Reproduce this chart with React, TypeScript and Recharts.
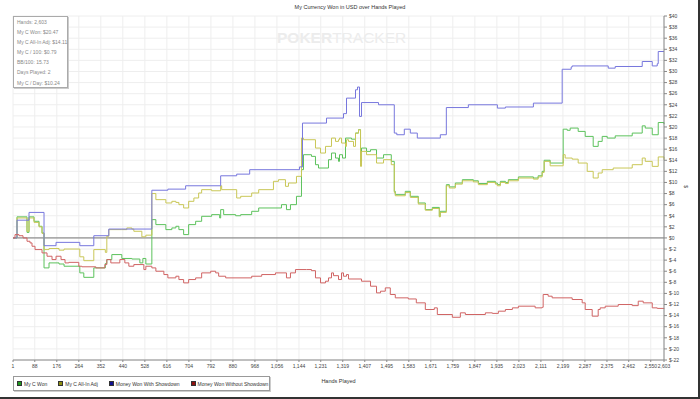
import { LineChart, Line, XAxis, YAxis, CartesianGrid, ReferenceLine } from "recharts";

// [hand, dollars] — cumulative
const myCWon: [number, number][] = [
  [1, 0], [17, 3.8], [57, 1.0], [65, 3.8], [85, 3.0], [105, 2.1], [117, 0.9], [125, -5.4], [145, -4.5], [185, -4.7],
  [205, -5.1], [268, -6.3], [284, -7.1], [324, -5.4], [370, -4.6], [376, -3.9], [396, -3.0], [436, -3.7], [476, -3.8],
  [508, -4.5], [520, -3.7], [532, -4.7], [556, 3.3], [572, 2.4], [612, 1.5], [636, 1.8], [652, 2.1], [664, 1.5],
  [683, 0.6], [703, 2.4], [731, 3.0], [755, 3.9], [795, 4.2], [827, 3.6], [831, 5.1], [843, 4.2], [891, 4.0],
  [911, 4.2], [955, 4.8], [983, 5.4], [1074, 6.0], [1094, 5.1], [1110, 6.0], [1134, 7.5], [1154, 12.3], [1162, 15.0],
  [1194, 14.7], [1210, 13.2], [1222, 12.6], [1262, 14.1], [1274, 15.3], [1290, 14.4], [1302, 13.8], [1306, 15.0],
  [1318, 14.4], [1330, 18.0], [1354, 17.8], [1370, 18.9], [1382, 19.5], [1390, 13.8], [1394, 16.2], [1414, 15.6],
  [1430, 15.9], [1454, 14.4], [1482, 15.0], [1513, 13.8], [1525, 8.4], [1529, 7.8], [1569, 8.4], [1589, 7.5],
  [1621, 6.3], [1649, 5.1], [1677, 5.5], [1705, 3.9], [1709, 4.8], [1733, 9.6], [1745, 9.2], [1769, 9.9],
  [1797, 10.5], [1841, 10.3], [1861, 9.8], [1897, 10.2], [1929, 9.9], [1937, 9.6], [1949, 10.2], [1969, 10.0],
  [1981, 10.5], [2021, 11.0], [2081, 10.8], [2100, 11.2], [2116, 12.0], [2124, 14.0], [2148, 13.5], [2200, 19.6],
  [2216, 19.4], [2228, 19.8], [2260, 19.2], [2288, 18.3], [2320, 16.5], [2340, 17.4], [2356, 18.3], [2376, 18.0],
  [2408, 18.4], [2476, 18.9], [2516, 20.2], [2528, 19.8], [2556, 18.6], [2580, 20.8], [2603, 20.5],
];

const myCAllIn: [number, number][] = [
  [1, 0], [17, 3.6], [57, 1.2], [65, 3.6], [85, 2.8], [105, 2.0], [117, 0.8], [125, -2.1], [145, -1.9], [185, -2.2],
  [205, -2.0], [268, -3.4], [284, -4.1], [324, -2.1], [370, -2.6], [376, 0.3], [384, 1.5], [436, 1.5], [456, 1.8],
  [476, 1.6], [484, 1.2], [516, 0.2], [532, 0.5], [556, 8.0], [572, 6.9], [612, 6.3], [636, 6.6], [652, 6.4],
  [664, 6.0], [683, 5.4], [703, 6.6], [724, 7.2], [743, 8.1], [755, 8.7], [795, 8.5], [831, 9.4], [835, 8.7],
  [895, 7.2], [911, 7.5], [955, 8.1], [983, 8.7], [1042, 10.2], [1062, 10.5], [1090, 9.3], [1102, 9.9], [1134, 11.1],
  [1154, 18.0], [1162, 17.7], [1210, 16.2], [1230, 15.3], [1250, 16.5], [1274, 18.0], [1290, 17.4], [1302, 17.7],
  [1306, 18.0], [1314, 17.1], [1330, 16.5], [1334, 17.7], [1342, 17.4], [1362, 16.5], [1370, 18.9], [1382, 19.5],
  [1390, 12.9], [1394, 15.6], [1414, 15.0], [1454, 13.5], [1482, 14.1], [1513, 13.2], [1525, 8.2], [1529, 7.6],
  [1569, 8.2], [1589, 7.3], [1621, 6.1], [1649, 5.0], [1677, 5.3], [1705, 3.8], [1709, 4.6], [1733, 9.4],
  [1745, 9.0], [1769, 9.7], [1797, 10.3], [1841, 10.1], [1861, 9.6], [1897, 10.0], [1929, 9.7], [1937, 9.4],
  [1949, 10.0], [1969, 9.8], [1981, 10.3], [2021, 10.8], [2081, 10.6], [2100, 11.0], [2116, 11.8], [2124, 13.8],
  [2148, 13.0], [2200, 15.0], [2208, 14.4], [2236, 14.2], [2260, 13.5], [2296, 12.0], [2320, 10.8], [2340, 11.7],
  [2356, 12.3], [2400, 12.6], [2476, 13.2], [2516, 14.4], [2528, 13.8], [2556, 12.9], [2580, 14.6], [2603, 14.1],
];

const withShowdown: [number, number][] = [
  [1, 0], [17, 3.2], [65, 4.6], [125, -1.4], [173, -0.8], [268, -1.4], [324, 0.4], [384, 1.6], [556, 8.6],
  [620, 8.8], [691, 9.4], [831, 11.2], [895, 11.5], [947, 12.3], [1146, 12.8], [1158, 20.7], [1254, 21.6],
  [1322, 22.4], [1334, 25.2], [1370, 26.7], [1378, 27.2], [1386, 21.9], [1394, 24.4], [1462, 24.0], [1525, 18.9],
  [1535, 18.6], [1565, 19.6], [1589, 18.9], [1617, 18.0], [1709, 18.6], [1733, 23.5], [1821, 24.0], [1937, 23.4],
  [1969, 23.6], [2081, 24.3], [2196, 30.4], [2232, 30.8], [2236, 31.0], [2380, 30.6], [2408, 30.9], [2516, 31.8],
  [2556, 31.0], [2576, 31.4], [2580, 33.6], [2603, 33.6],
];

const withoutShowdown: [number, number][] = [
  [1, 0], [9, 0.6], [25, 0.4], [41, 0], [57, -0.6], [69, -0.9], [77, -1.5], [89, -2.1], [117, -2.7], [137, -3.3],
  [157, -3.9], [173, -3.3], [193, -3.9], [209, -4.5], [224, -4.4], [264, -5.1], [276, -5.2], [332, -5.4], [368, -4.8],
  [376, -3.9], [392, -4.5], [428, -3.9], [448, -4.5], [464, -5.1], [484, -4.8], [524, -5.7], [532, -5.1], [556, -5.4],
  [572, -6.0], [604, -6.6], [620, -7.2], [652, -6.9], [664, -7.5], [683, -8.1], [703, -7.5], [731, -7.2], [755, -6.3],
  [791, -6.0], [811, -6.3], [823, -6.9], [851, -7.2], [955, -6.9], [995, -6.6], [1050, -6.3], [1094, -7.2],
  [1110, -6.3], [1130, -5.7], [1174, -5.7], [1194, -5.9], [1210, -7.2], [1230, -8.1], [1250, -7.8], [1262, -7.2],
  [1274, -6.3], [1282, -6.8], [1302, -7.5], [1314, -6.3], [1322, -6.9], [1334, -6.6], [1342, -7.4], [1394, -7.8],
  [1430, -8.7], [1454, -9.9], [1470, -9.6], [1489, -9.0], [1509, -10.2], [1529, -10.8], [1581, -11.0],
  [1613, -11.7], [1649, -12.9], [1685, -12.6], [1697, -13.8], [1757, -14.3], [1789, -13.5], [1809, -13.8],
  [1889, -13.5], [1917, -13.6], [1941, -13.2], [1969, -12.9], [1997, -12.6], [2021, -12.3], [2088, -12.6],
  [2116, -12.5], [2120, -10.2], [2140, -10.5], [2156, -10.8], [2236, -11.1], [2276, -11.7], [2288, -12.9],
  [2316, -14.1], [2340, -12.9], [2348, -12.6], [2368, -12.3], [2420, -12.0], [2476, -12.2], [2500, -11.4],
  [2520, -11.7], [2556, -12.6], [2576, -12.7], [2603, -12.8],
];

const handTicks = [
  1, 88, 176, 264, 352, 440, 528, 616, 704, 792, 880, 968, 1056, 1144, 1231, 1319, 1407, 1495, 1583, 1671,
  1759, 1847, 1935, 2023, 2111, 2199, 2287, 2375, 2462, 2550, 2603,
];
const dollarTicks = [
  -22, -20, -18, -16, -14, -12, -10, -8, -6, -4, -2, 0, 2, 4, 6, 8, 10, 12, 14, 16, 18, 20, 22, 24, 26, 28, 30,
  32, 34, 36, 38, 40,
];

const statLines = [
  "Hands: 2,603",
  "My C Won: $20.47",
  "My C All-In Adj: $14.11",
  "My C / 100: $0.79",
  "BB/100: 15.73",
  "Days Played: 2",
  "My C / Day: $10.24",
];

const series = [
  { name: "My C Won", data: myCWon, color: "#5cc25c", swatch: "#1f9a1f" },
  { name: "My C All-In Adj", data: myCAllIn, color: "#c9c757", swatch: "#8f8f10" },
  { name: "Money Won With Showdown", data: withShowdown, color: "#7777dd", swatch: "#101090" },
  { name: "Money Won Without Showdown", data: withoutShowdown, color: "#d06464", swatch: "#901010" },
];

const font = "'Liberation Sans', Arial, sans-serif";

export default function App() {
  return (
    <div
      style={{
        position: "absolute", left: 0, top: 0, width: 700, height: 399, background: "#fff",
        boxSizing: "border-box", borderRight: "2px solid #333", borderBottom: "2px solid #333", fontFamily: font,
      }}
    >
      <div style={{ position: "absolute", left: 0, top: 4, width: 700, textAlign: "center", fontSize: 5.5, color: "#333" }}>
        My Currency Won in USD over Hands Played
      </div>
      <div style={{ position: "absolute", left: 277, top: 29, fontSize: 15.5, color: "#ececec", whiteSpace: "nowrap" }}>
        <span style={{ fontWeight: "bold" }}>POKER</span>
        <span>TRACKER</span>
      </div>
      <LineChart
        width={698}
        height={397}
        margin={{ top: 16, right: 2, bottom: 0, left: 13 }}
        style={{ position: "absolute", left: 0, top: 0 }}
      >
        <CartesianGrid yAxisId="r" stroke="#eeeeee" />
        <XAxis
          type="number"
          dataKey="hand"
          domain={[1, 2603]}
          ticks={handTicks}
          interval={0}
          tickFormatter={(v) => Number(v).toLocaleString("en-US")}
          tick={{ fontSize: 5, fill: "#444" }}
          tickSize={2}
          stroke="#888"
          height={37}
          allowDuplicatedCategory={false}
          label={{ value: "Hands Played", position: "insideBottom", offset: 14, style: { fontSize: 5.5, fill: "#333" } }}
        />
        <YAxis yAxisId="l" orientation="left" width={0} domain={[-22, 40]} ticks={dollarTicks} tick={false} stroke="#888" />
        <YAxis
          yAxisId="r"
          orientation="right"
          width={32}
          domain={[-22, 40]}
          ticks={dollarTicks}
          interval={0}
          tickFormatter={(v) => `$${v}`}
          tick={{ fontSize: 5, fill: "#444", textAnchor: "start" }}
          tickSize={3}
          stroke="#888"
          label={{ value: "$", position: "insideRight", angle: 90, offset: 10, style: { fontSize: 5, fill: "#444" } }}
        />
        <ReferenceLine yAxisId="r" y={0} stroke="#777" />
        {series.map((s) => (
          <Line
            key={s.name}
            yAxisId="r"
            data={s.data.map(([hand, value]) => ({ hand, value }))}
            dataKey="value"
            name={s.name}
            type="stepAfter"
            stroke={s.color}
            strokeWidth={1}
            dot={false}
            isAnimationActive={false}
          />
        ))}
      </LineChart>
      <div
        style={{
          position: "absolute", left: 13, top: 16, width: 55, height: 72, background: "#fff",
          border: "1px solid #aaa", boxShadow: "1px 1px 0 #ccc", padding: "0 0 0 3px", boxSizing: "border-box",
        }}
      >
        {statLines.map((t) => (
          <div key={t} style={{ fontSize: 5, color: "#888", height: 10.1, lineHeight: "10.1px", whiteSpace: "nowrap" }}>
            {t}
          </div>
        ))}
      </div>
      <div
        style={{
          position: "absolute", left: 13, top: 376, width: 257, height: 15, background: "#fff",
          border: "1px solid #999", boxShadow: "1px 1px 0 #ccc", boxSizing: "border-box",
          display: "flex", alignItems: "center", paddingLeft: 3,
        }}
      >
        {series.map((s) => (
          <div key={s.name} style={{ display: "flex", alignItems: "center", marginRight: 11, fontSize: 5, color: "#333", whiteSpace: "nowrap" }}>
            <span style={{ display: "inline-block", width: 3, height: 3, background: s.swatch, border: "0.5px solid #333", marginRight: 2 }} />
            {s.name}
          </div>
        ))}
      </div>
    </div>
  );
}
